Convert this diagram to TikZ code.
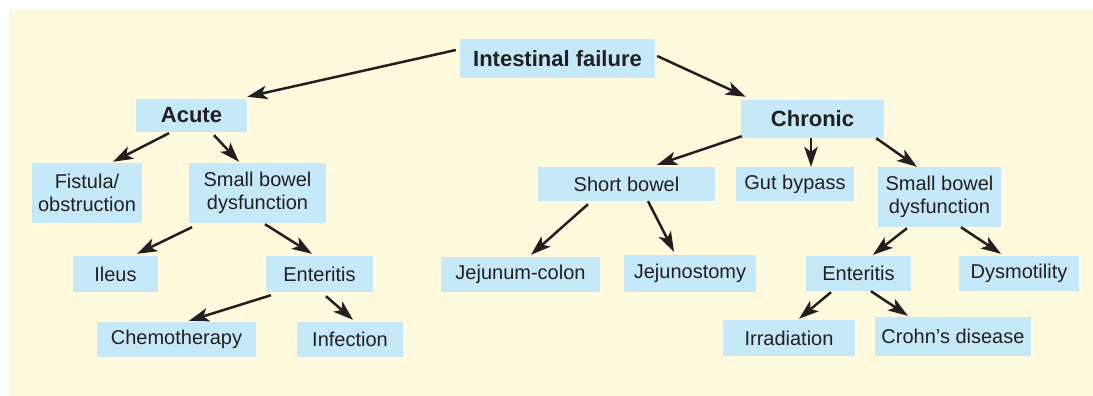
\documentclass[tikz,border=0pt]{standalone}
\usepackage{fontspec}
\setmainfont{Liberation Sans}
\usetikzlibrary{arrows.meta,calc}
\definecolor{bgyellow}{RGB}{255,250,222}
\definecolor{boxblue}{RGB}{198,233,249}
\definecolor{ink}{RGB}{35,31,32}
\tikzset{
  box/.style={fill=boxblue, draw=none, inner sep=0pt, align=center, text=ink,
    font=\fontsize{20}{22.5}\selectfont},
  hbox/.style={box, font=\fontsize{22}{24}\selectfont\bfseries},
  arr/.style={draw=ink, line width=2.5pt, -{Stealth[length=20pt,width=13.5pt,inset=5pt]}},
}
\begin{document}
\begin{tikzpicture}[x=1pt,y=-1pt]
\useasboundingbox (0,0) rectangle (1093,396);
\fill[white] (0,0) rectangle (1093,396);
\fill[bgyellow] (9,9) rectangle (1093,396);
% nodes
\node[hbox, minimum width=195pt, minimum height=39pt] (if) at (557.5,58.5) {Intestinal failure};
\node[hbox, minimum width=111pt, minimum height=33pt] (acute) at (191.5,115.5) {Acute};
\node[box, minimum width=110pt, minimum height=60pt] (fist) at (87,193) {Fistula/\\obstruction};
\node[box, minimum width=137pt, minimum height=60pt] (sbdL) at (257.5,193) {Small bowel\\dysfunction};
\node[box, minimum width=85pt, minimum height=36pt] (ileus) at (115.5,274) {Ileus};
\node[box, minimum width=107pt, minimum height=36pt] (entL) at (319.5,274) {Enteritis};
\node[box, minimum width=159pt, minimum height=35pt] (chemo) at (176.5,339.5) {Chemotherapy};
\node[box, minimum width=106pt, minimum height=35pt] (infec) at (350,339.5) {Infection};
\node[hbox, minimum width=143pt, minimum height=38pt] (chronic) at (812.5,119) {Chronic};
\node[box, minimum width=177pt, minimum height=34pt] (shortb) at (626.5,184) {Short bowel};
\node[box, minimum width=118pt, minimum height=34pt] (gutb) at (795,184) {Gut bypass};
\node[box, minimum width=123pt, minimum height=60pt] (sbdR) at (939.5,197) {Small bowel\\dysfunction};
\node[box, minimum width=159pt, minimum height=35pt] (jejcol) at (520.5,274.5) {Jejunum-colon};
\node[box, minimum width=132pt, minimum height=37pt] (jejost) at (690,273.5) {Jejunostomy};
\node[box, minimum width=105pt, minimum height=35pt] (entR) at (858.5,273.5) {Enteritis};
\node[box, minimum width=120pt, minimum height=35pt] (dysm) at (1019,273.5) {Dysmotility};
\node[box, minimum width=132pt, minimum height=36pt] (irrad) at (789,338) {Irradiation};
\node[box, minimum width=156pt, minimum height=39pt] (crohn) at (953,336.5) {Crohn’s disease};
% connectors
\draw[arr] ($(if.west)+(-4,-8.5)$) -- ($(acute.north east)+(0,-2)$);
\draw[arr] ($(if.east)+(2,-2.5)$) -- ($(chronic.north west)+(5,-3)$);
\draw[arr] ($(acute.south)+(-22.5,1)$) -- ($(fist.north)+(26,-1)$);
\draw[arr] ($(acute.south)+(22.5,3)$) -- ($(sbdL.north)+(-18.5,-1)$);
\draw[arr] ($(sbdL.south)+(-65.5,4)$) -- ($(ileus.north)+(21.5,-2)$);
\draw[arr] ($(sbdL.south)+(7.5,1)$) -- ($(entL.north)+(-7.5,-2)$);
\draw[arr] ($(entL.south)+(-48.5,3)$) -- ($(chemo.north)+(12.5,-1)$);
\draw[arr] ($(entL.south)+(6.5,4)$) -- ($(infec.north)+(3,-2)$);
\draw[arr] ($(chronic.south west)+(1,-2)$) -- ($(shortb.north)+(30.5,-2)$);
\draw[arr] ($(chronic.south)+(-1.5,0)$) -- ($(gutb.north)+(16,0)$);
\draw[arr] ($(chronic.south east)+(-8,0)$) -- ($(sbdR.north)+(-22.5,0)$);
\draw[arr] ($(sbdR.south)+(-32.5,1)$) -- ($(entR.north)+(14.5,-1)$);
\draw[arr] ($(sbdR.south)+(21.5,0)$) -- ($(dysm.north)+(-18,-2)$);
\draw[arr] ($(entR.south)+(-27.5,1)$) -- ($(irrad.north)+(10,-1)$);
\draw[arr] ($(entR.south)+(12.5,0)$) -- ($(crohn.north)+(-45,-1)$);
\draw[arr] ($(shortb.south)+(-38.5,3)$) -- ($(jejcol.north)+(10.5,-2)$);
\draw[arr] ($(shortb.south)+(21.5,0)$) -- ($(jejost.north)+(-16,-3)$);
\end{tikzpicture}
\end{document}
